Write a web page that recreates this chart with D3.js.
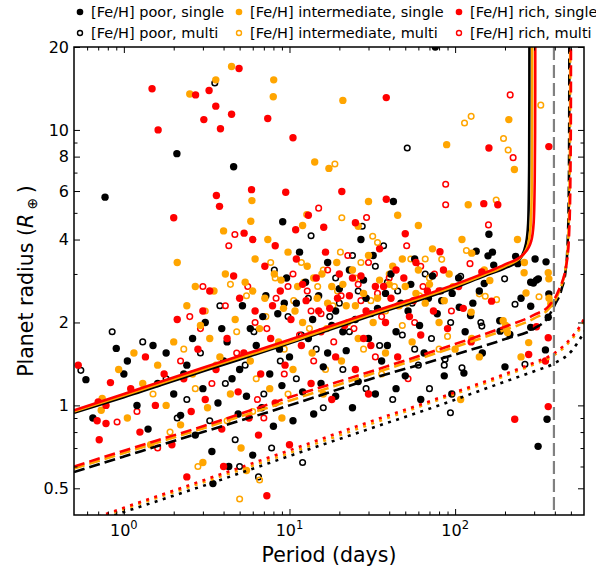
<!DOCTYPE html>
<html><head><meta charset="utf-8">
<script src="https://cdn.jsdelivr.net/npm/d3@7"></script>
<style>body{margin:0;background:#fff} svg{display:block} text{font-family:"DejaVu Sans",sans-serif;fill:#000}</style>
</head><body><svg id="c" width="596" height="569"></svg>
<script>
// ---------- scatter data: [period (days), radius (R_earth)] ----------
const poorSingle = [[0.77,5.7],[2.09,8.2],[4.6,7.35],[9.1,4.64],[42.4,5.5],[75.9,20],
[160,4.18],[134,3.63],[158,3.49],[168,3.6],[171,3.23],[239,3.27],[304,3.4],[354,3.32],[318,2.88],[286,2.8],[297,2.78],[310,2.85],[150,2.77],[232,3.47],[368,2.54],[286,2.29],[365,2.09],[186,2.03],[187,1.86],[214,1.81],[286,1.92],[351,1.59],[124,2.12],[106,2.27],[113,1.31],[95.5,1.10],[359,0.89],[317,0.71],
[0.59,1.24],[0.65,0.90],[0.90,1.61],[3.45,0.52],
[1.0,1.3],[1.05,1.45],[1.2,1.0],[1.4,0.82],[1.6,1.2],[1.8,1.55],[2.0,1.1],[2.2,0.92],[2.4,1.4],[2.7,0.78],[3.0,1.15],[3.1,2.0],[3.4,0.68],[3.7,1.02],[4.0,1.45],[4.3,0.6],[4.5,1.25],[4.9,0.93],[5.2,2.3],[5.5,1.08],[6.0,0.66],[6.3,1.65],[6.8,0.98],[7.2,2.5],[7.6,1.3],[8.0,0.84],[8.5,2.15],[9.0,1.18],[9.6,2.9],[10,1.5],[10.5,0.88],[11,2.35],[12,1.12],[12.5,2.8],[13,1.75],[14,0.93],[15,2.5],[16,1.38],[17,3.3],[18,1.95],[19,1.08],[20,2.65],[22,1.58],[23,3.1],[25,2.05],[26,1.22],[28,2.85],[30,1.75],[32,3.5],[34,2.25],[36,1.45],[38,2.55],[41,3.0],[44,1.85],[47,2.35],[50,1.28],[54,2.75],[57,3.4],[61,1.95],[65,1.55],[69,2.45],[73,2.95],[78,2.15],[86,1.28],[96,2.55],[115,1.85],[128,2.35],[146,1.55],[200,1.38],[5.8,1.9],[2.6,1.75],[15.5,1.2],[24,0.98],[44,1.15],[62,1.05],[33,1.1],[8.7,1.6],[3.9,1.9],[11.5,3.6],[27,4.0],[19,2.2],[1.5,1.65],
[4.2,1.7],[6.9,2.1],[9.3,2.35],[13.8,2.05],[21,1.85],[29,2.45],[39,1.65],[52,2.2],[83,2.4],[105,2.9],[140,2.6],[250,2.45],[2.3,1.3],[5.0,1.35],[17,1.55]];
const poorMulti = [[3.54,14.8],[51.4,8.6],[13.5,4.13],[27.5,4.47],[199,2.88],[108,2.94],[230,2.33],[143,2.0],[145,1.94],[264,1.41],[87,1.47],[86,1.40],[110,1.37],[93.7,0.94],[0.55,1.34],[0.85,1.85],
[1.3,1.7],[1.8,1.25],[2.4,1.05],[2.9,1.55],[3.3,0.88],[4.1,1.2],[4.7,0.75],[5.4,1.4],[6.1,1.85],[7.0,1.1],[7.8,0.7],[8.8,1.45],[9.8,2.1],[11,1.25],[12,0.62],[13,2.45],[14.5,1.6],[16,0.98],[17.5,2.1],[19,2.9],[21,1.35],[23,1.85],[26,2.6],[29,1.15],[31,2.15],[35,1.65],[39,2.8],[42,1.05],[48,1.8],[55,2.35],[60,1.4],[66,3.0],[72,1.75],[82,2.6],[6.5,0.55],[5.0,0.6],[2.1,0.9],[37,3.8],[24,3.5],[70,1.15],
[3.8,2.3],[8.1,3.1],[11.8,1.8],[20,2.35],[33,3.2],[45,2.6],[57,1.6],[94,2.0]];
const intSingle = [[4.47,17.0],[3.59,15.2],[2.5,13.5],[8.03,15.2],[7.98,13.2],[21,12.8],[14.2,7.65],[17.3,7.25],[5.93,5.54],[5.84,4.66],[26,4.47],[211,10.9],[88.9,8.84],[228,7.18],[120,5.35],[110,4.0],[238,4.0],[126,3.57],[262,3.3],[261,3.03],[365,3.03],[368,2.88],[162,2.84],[268,2.56],[378,2.34],[195,2.03],[202,1.95],[207,1.84],[278,1.69],[250,1.50],[140,1.50],[126,1.75],[125,2.18],[108,1.05],[369,2.45],
[0.74,1.06],[0.73,0.96],[0.93,1.35],
[1.05,0.9],[1.15,1.55],[1.3,1.2],[1.45,0.72],[1.6,1.4],[1.8,1.0],[2.0,1.7],[2.2,0.85],[2.4,2.3],[2.6,1.3],[2.9,1.95],[3.2,0.98],[3.5,2.6],[3.8,1.5],[4.1,3.0],[4.4,1.1],[4.7,2.05],[5.1,0.7],[5.4,2.8],[5.8,1.45],[6.2,3.4],[6.6,1.9],[7.1,2.45],[7.6,1.15],[8.1,3.0],[8.6,1.7],[9.2,2.25],[9.8,3.6],[10.5,1.35],[11.2,2.7],[12,2.0],[12.8,3.2],[13.7,1.55],[14.7,2.45],[15.7,3.0],[16.8,1.9],[18,2.7],[19.3,3.3],[20.6,1.45],[22,2.3],[24,3.1],[26,1.75],[28,2.55],[30,3.5],[32,2.0],[35,2.85],[38,1.55],[42,3.2],[46,2.3],[50,2.7],[55,1.7],[60,3.1],[66,2.35],[73,3.7],[80,2.0],[92,3.0],[100,1.6],[3.0,0.62],[5.5,0.58],[9.0,0.9],[16,1.1],[2.1,3.3],[4.0,4.3],[7.4,4.0],[12,4.5],[30,5.5],[60,4.5],[45,4.9],
[3.3,1.75],[6.0,2.6],[8.9,2.85],[10.8,2.2],[14,2.9],[17,2.35],[21,2.75],[25,2.3],[34,2.45],[40,2.75],[48,3.4],[58,2.55],[70,2.75],[86,2.4],[150,3.1],[2.7,2.7]];
const intMulti = [[12.7,4.93],[20.7,4.8],[18.8,7.52],[31.8,4.11],[329,12.3],[114,10.6],[125,11.2],[196,9.31],[209,8.46],[177,5.57],[117,3.65],[83,3.39],[140,2.54],[152,2.49],[178,2.42],[321,2.48],[90,1.78],[5.0,0.457],[6.6,0.536],
[1.5,1.1],[1.9,0.8],[2.3,1.6],[2.7,1.15],[3.1,2.2],[3.6,1.4],[4.2,0.88],[4.8,1.85],[5.5,2.5],[6.3,1.25],[7.2,2.1],[8.2,2.9],[9.3,1.6],[10.6,2.4],[11.8,3.3],[13.2,1.9],[14.8,2.7],[16.5,1.35],[18.3,2.3],[20.3,3.6],[22.5,2.0],[25,2.9],[28,1.6],[31,2.4],[34,3.9],[38,2.2],[43,2.7],[48,1.95],[54,3.4],[61,2.5],[70,2.9],[80,1.6],[6.0,0.95],[9.8,1.1],[2.8,0.6],[36,1.3],
[4.4,2.75],[7.7,3.3],[12.2,2.8],[16,3.1],[19.5,2.6],[27,3.3],[40,3.0],[51,2.35],[66,3.4],[97,2.7]];
const richSingle = [[1.48,14.1],[1.61,10.0],[4.96,16.7],[2.71,13.4],[3.27,13.9],[3.59,12.2],[4.47,11.4],[3.04,10.9],[3.83,10.1],[7.39,11.0],[10.5,9.37],[38.4,13.1],[5.9,6.07],[3.62,5.78],[3.78,5.28],[9.49,5.94],[20.7,5.98],[38.4,5.6],[5.32,4.22],[10.9,4.34],[16.1,4.43],[160,8.6],[368,8.7],[149,5.4],[181,5.35],[81,3.61],[85,3.1],[145,3.05],[166,2.39],[310,1.93],[365,1.76],[351,1.45],[278,1.53],[365,0.99],[229,0.89],
[0.53,1.40],[0.69,0.88],[0.71,0.75],[0.70,1.03],[0.78,1.0],[0.78,0.86],[0.83,1.21],[7.3,0.47],
[1.1,1.15],[1.25,0.8],[1.35,1.5],[1.55,1.0],[1.75,1.3],[1.95,0.72],[2.1,2.05],[2.3,1.25],[2.55,0.95],[2.8,1.6],[3.1,1.05],[3.3,2.6],[3.6,1.35],[3.9,0.82],[4.2,1.75],[4.6,2.95],[4.9,1.12],[5.3,1.55],[5.7,0.9],[6.2,2.2],[6.7,1.3],[7.1,3.2],[7.7,1.75],[8.2,1.02],[8.8,2.6],[9.4,1.4],[10.2,2.05],[11,3.4],[11.8,1.65],[12.6,2.4],[13.5,1.2],[14.5,2.9],[15.5,1.85],[16.5,3.6],[17.5,2.25],[19,1.5],[20,3.0],[21.5,1.95],[23,2.5],[25,1.35],[27,2.95],[29,2.2],[31,1.65],[33,2.7],[35,3.7],[38,2.0],[41,2.45],[45,1.5],[49,2.9],[53,2.1],[58,3.3],[62,1.8],[68,2.6],[74,2.2],[90,1.9],[105,2.7],[125,1.7],[2.0,4.8],[6.0,4.0],[8.2,3.8],[13.0,4.9],[25,4.6],[50,4.2],[4.0,0.6],[10,0.72],[2.4,0.55],[6.5,0.78],[18,1.05],[30,1.1],
[3.0,2.2],[5.0,2.45],[7.9,2.3],[12,2.75],[15,2.2],[19.5,2.45],[24,2.9],[28,1.75],[37,2.7],[44,3.1],[56,2.4],[80,2.6],[112,2.25]];
const richMulti = [[215,13.4],[224,7.93],[87.7,6.35],[87.7,5.35],[159,4.52],[123,3.27],[29.2,4.81],[4.68,4.17],[0.91,0.87],
[1.2,0.95],[2.2,1.45],[2.9,1.9],[3.4,1.2],[4.1,2.3],[4.8,1.55],[5.6,2.7],[6.4,1.05],[7.3,1.9],[8.3,2.45],[9.3,1.3],[10.5,3.0],[11.5,1.8],[12.8,2.6],[14,1.45],[15.5,2.15],[17,3.1],[18.5,1.7],[20.5,2.5],[22.5,3.5],[24.5,1.9],[27,2.4],[30,3.3],[33,1.5],[36,2.1],[40,2.9],[45,2.3],[51,3.8],[57,2.0],[64,2.7],[75,3.0],[95,2.2],[1.6,0.7],[7.0,0.9],[4.3,3.8],[15,5.2],[3.0,2.7],[52,1.25],
[2.5,2.1],[6.2,2.0],[9.8,2.7],[13.5,2.2],[26,2.75],[34,2.55],[62,3.2]];

// ---------- model curves: [period, radius] ----------
const solidBlack = [[0.5,0.94],[1,1.07],[3,1.33],[10,1.68],[30,2.1],[100,2.68],[150,2.95],[200,3.15],[243,3.36],[268,3.87],[276,4.57],[280,7.5],[280.8,14],[281,25]];
const solidOrange = [[0.5,0.95],[1,1.085],[3,1.35],[10,1.7],[30,2.13],[100,2.71],[150,2.98],[200,3.2],[250,3.45],[276,3.85],[286,4.5],[290,6],[291.5,9],[292.1,14],[292.3,25]];
const solidRed = [[0.5,0.96],[1,1.1],[3,1.37],[10,1.73],[30,2.16],[100,2.75],[150,3.02],[200,3.25],[260,3.55],[288,3.95],[298,4.6],[302,6.2],[304,9.5],[304.6,14],[304.8,25]];
const dashBlack = [[0.5,0.573],[1,0.652],[3,0.80],[10,1.0],[30,1.24],[100,1.53],[200,1.74],[300,1.9],[360,2.07],[400,2.32],[440,2.65],[465,3.1],[478,3.9],[485,5.5],[488,9],[489,14],[489.3,25]];
const dashOrange = [[0.5,0.59],[1,0.672],[3,0.825],[10,1.04],[30,1.29],[100,1.63],[200,1.88],[300,2.07],[369,2.25],[420,2.55],[470,3.3],[485,4.4],[492,7],[495,12],[495.6,25]];
const dashRed = [[0.5,0.60],[1,0.685],[3,0.84],[10,1.07],[30,1.32],[100,1.67],[200,1.93],[300,2.13],[369,2.3],[420,2.6],[474,3.36],[490,4.5],[497,7],[500,12],[500.6,25]];
const dotBlack = [[0.5,0.357],[1,0.41],[3,0.51],[10,0.655],[30,0.82],[80,1.0],[200,1.22],[300,1.33],[396,1.42],[507,1.58],[585,1.795],[620,1.9]];
const dotOrange = [[0.5,0.363],[1,0.42],[3,0.525],[10,0.672],[30,0.85],[80,1.05],[200,1.28],[300,1.41],[396,1.52],[507,1.74],[585,1.96],[620,2.1]];
const dotRed = [[0.5,0.367],[1,0.425],[3,0.534],[10,0.687],[30,0.869],[80,1.064],[200,1.30],[300,1.43],[396,1.545],[507,1.77],[585,2.0],[620,2.15]];
const periodLimit = 395;

// ---------- ticks & labels ----------
const xMajor = [1,10,100];
const xMinor = [0.6,0.7,0.8,0.9,2,3,4,5,6,7,8,9,20,30,40,50,60,70,80,90,200,300,400,500];
const xTickExp = ["0","1","2"];
const yMajor = [0.5,1,2,4,6,8,10,20];
const yMinor = [0.6,0.7,0.8,0.9,3,5,7,9];
const yTickLabels = ["0.5","1","2","4","6","8","10","20"];
const legendLabels = ["[Fe/H] poor, single","[Fe/H] intermediate, single","[Fe/H] rich, single",
                      "[Fe/H] poor, multi","[Fe/H] intermediate, multi","[Fe/H] rich, multi"];
const colors = {poor:"#000000", intermediate:"#FFA500", rich:"#FF0000"};

const L=74,R=584,T=47,B=515;
const svg=d3.select("#c");
const x=d3.scaleLog().domain([0.5,600]).range([L,R]);
const y=d3.scaleLog().domain([0.4,20]).range([B,T]);

svg.append("defs").append("clipPath").attr("id","clip").append("rect")
  .attr("x",L).attr("y",T).attr("width",R-L).attr("height",B-T);

const pts=svg.append("g").attr("clip-path","url(#clip)");
function drawPts(data,col,filled){
  pts.append("g").selectAll("circle").data(data).join("circle")
    .attr("cx",d=>x(d[0])).attr("cy",d=>y(d[1]))
    .attr("r",filled?3.7:2.8)
    .attr("fill",filled?col:"none")
    .attr("stroke",filled?"none":col)
    .attr("stroke-width",filled?0:1.5);
}
drawPts(poorMulti,colors.poor,false);
drawPts(intMulti,colors.intermediate,false);
drawPts(richMulti,colors.rich,false);
drawPts(poorSingle,colors.poor,true);
drawPts(intSingle,colors.intermediate,true);
drawPts(richSingle,colors.rich,true);

const lines=svg.append("g").attr("clip-path","url(#clip)");
const lg=d3.line().x(d=>x(d[0])).y(d=>y(d[1])).curve(d3.curveMonotoneX);
function drawLine(data,col,dash){
  lines.append("path").datum(data).attr("d",lg).attr("fill","none")
    .attr("stroke",col).attr("stroke-width",2.6)
    .attr("stroke-dasharray",dash||null);
}
drawLine(dotBlack,colors.poor,"3,5.5");
drawLine(dotOrange,colors.intermediate,"3,5.5");
drawLine(dotRed,colors.rich,"3,5.5");
drawLine(dashBlack,colors.poor,"11,5");
drawLine(dashOrange,colors.intermediate,"11,5");
drawLine(dashRed,colors.rich,"11,5");
drawLine(solidBlack,colors.poor);
drawLine(solidOrange,colors.intermediate);
drawLine(solidRed,colors.rich);
lines.append("line").attr("x1",x(periodLimit)).attr("x2",x(periodLimit)).attr("y1",T).attr("y2",B)
  .attr("stroke","#808080").attr("stroke-width",2.2).attr("stroke-dasharray","13,5");

// axes (ticks inward on all four sides)
function ax(gen,tr){const g=svg.append("g").attr("transform",tr).call(gen);g.select(".domain").remove();g.selectAll("line").attr("stroke","#000").attr("stroke-width",1);return g;}
ax(d3.axisBottom(x).tickValues(xMajor).tickSize(-6).tickFormat(""),`translate(0,${B})`);
ax(d3.axisBottom(x).tickValues(xMinor).tickSize(-3.5).tickFormat(""),`translate(0,${B})`);
ax(d3.axisTop(x).tickValues(xMajor).tickSize(-6).tickFormat(""),`translate(0,${T})`);
ax(d3.axisTop(x).tickValues(xMinor).tickSize(-3.5).tickFormat(""),`translate(0,${T})`);
ax(d3.axisLeft(y).tickValues(yMajor).tickSize(-6).tickFormat(""),`translate(${L},0)`);
ax(d3.axisLeft(y).tickValues(yMinor).tickSize(-3.5).tickFormat(""),`translate(${L},0)`);
ax(d3.axisRight(y).tickValues(yMajor).tickSize(-6).tickFormat(""),`translate(${R},0)`);
ax(d3.axisRight(y).tickValues(yMinor).tickSize(-3.5).tickFormat(""),`translate(${R},0)`);
svg.append("rect").attr("x",L).attr("y",T).attr("width",R-L).attr("height",B-T)
  .attr("fill","none").attr("stroke","#000").attr("stroke-width",1.5);

// tick labels
xMajor.forEach((v,i)=>{
  const t=svg.append("text").attr("x",x(v)).attr("y",536).attr("text-anchor","middle").style("font-size","16px");
  t.append("tspan").text("10");
  t.append("tspan").attr("dy",-7).style("font-size","11.5px").text(xTickExp[i]);
});
yMajor.forEach((v,i)=>{
  svg.append("text").attr("x",L-5).attr("y",y(v)).attr("dy","0.36em").attr("text-anchor","end")
    .style("font-size","16px").text(yTickLabels[i]);
});

// axis titles
svg.append("text").attr("x",(L+R)/2).attr("y",562).attr("text-anchor","middle").style("font-size","20.5px").text("Period (days)");
const yl=svg.append("text").attr("transform","translate(33,281) rotate(-90)").attr("text-anchor","middle").style("font-size","20.5px");
yl.append("tspan").text("Planet radius (");
yl.append("tspan").style("font-style","italic").text("R");
yl.append("tspan").attr("dy",4).style("font-size","14px").text(" \u2295 ");
yl.append("tspan").attr("dy",-4).text(")");

// legend
const legX=[80,239,459], legY=[12,33];
const legSpec=[[colors.poor,true],[colors.intermediate,true],[colors.rich,true],[colors.poor,false],[colors.intermediate,false],[colors.rich,false]];
legendLabels.forEach((lab,i)=>{
  const c=i%3, r=Math.floor(i/3);
  const [col,filled]=legSpec[i];
  svg.append("circle").attr("cx",legX[c]).attr("cy",legY[r]).attr("r",filled?3.3:2.5)
    .attr("fill",filled?col:"none").attr("stroke",filled?"none":col).attr("stroke-width",1.4);
  svg.append("text").attr("x",legX[c]+11).attr("y",legY[r]).attr("dy","0.36em").style("font-size","14.5px").text(lab);
});
</script></body></html>
